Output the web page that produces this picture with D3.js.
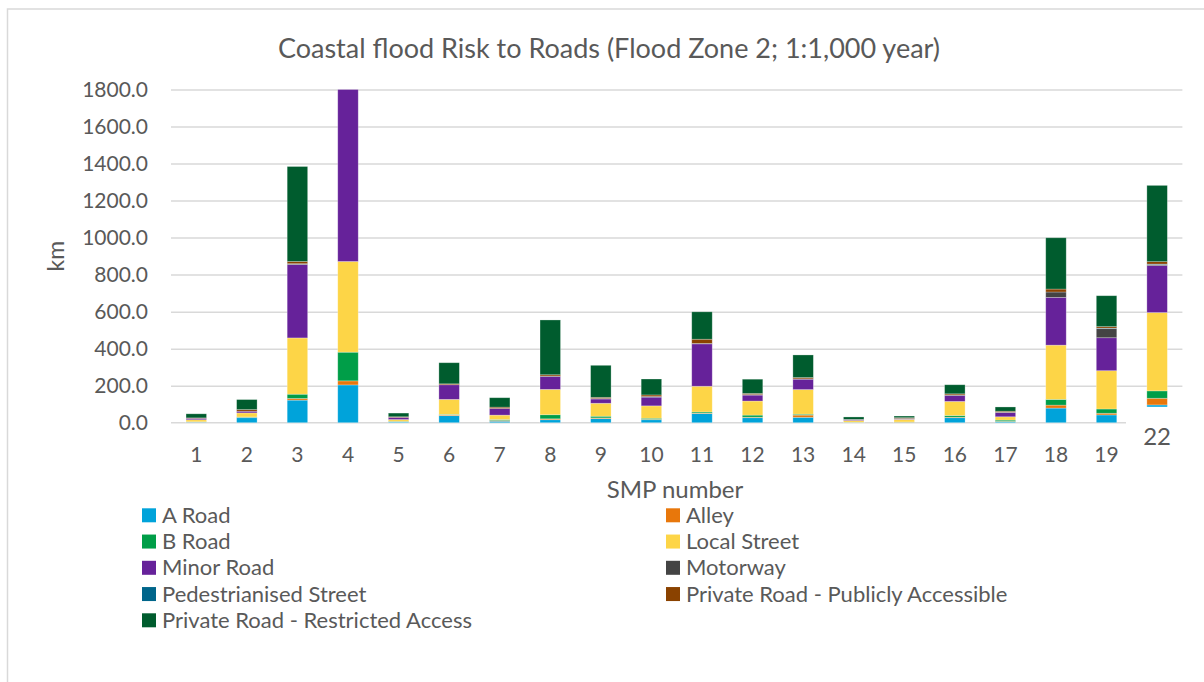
<!DOCTYPE html>
<html>
<head>
<meta charset="utf-8">
<script src="https://cdn.jsdelivr.net/npm/d3@7"></script>
<style>
  html, body { margin: 0; padding: 0; background: #ffffff; }
  svg { display: block; font-family: Lato, "Open Sans", sans-serif; }
</style>
</head>
<body>
<svg id="chart" width="1204" height="682"></svg>
<script>
// SMP (Shoreline Management Plan) areas along the x axis
const smp = ["1","2","3","4","5","6","7","8","9","10","11","12","13","14","15","16","17","18","19","22"];

// km of road in Flood Zone 2, by road class
const aRoad        = [3, 27, 122, 204, 4, 38, 8, 16, 22, 16, 49, 27, 29, 1, 1, 27, 5, 79, 42, 96];
const alley        = [1, 2, 9, 22, 2, 4, 4, 5, 4, 2, 3, 3, 12, 1, 2, 3, 2, 16, 9, 36];
const bRoad        = [1, 2, 23, 155, 2, 3, 5, 22, 9, 6, 6, 11, 5, 1, 1, 9, 7, 31, 23, 40];
const localStreet  = [11, 22, 304, 490, 9, 81, 24, 137, 70, 67, 139, 76, 133, 9, 14, 76, 18, 293, 207, 423];
const minorRoad    = [8, 9, 396, 929, 12, 79, 36, 69, 23, 47, 229, 32, 56, 5, 2, 32, 23, 258, 178, 254];
const motorway     = [0, 0, 3, 0, 0, 0, 0, 3, 3, 0, 0, 3, 2, 0, 4, 3, 2, 29, 49, 6];
const pedestrian   = [0, 0, 2, 0, 0, 0, 0, 0, 0, 3, 2, 0, 0, 0, 0, 0, 0, 0, 3, 2];
const privatePub   = [2, 9, 12, 0, 3, 5, 7, 7, 6, 9, 23, 6, 7, 1, 3, 6, 5, 16, 8, 13];
const privateRes   = [22, 54, 513, 0, 20, 114, 51, 296, 173, 86, 148, 77, 122, 13, 9, 49, 23, 277, 167, 412];

const seriesNames = ["A Road", "Alley", "B Road", "Local Street", "Minor Road", "Motorway",
  "Pedestrianised Street", "Private Road - Publicly Accessible", "Private Road - Restricted Access"];
const seriesValues = [aRoad, alley, bRoad, localStreet, minorRoad, motorway, pedestrian, privatePub, privateRes];
const seriesColors = ["#00a3da", "#e8770b", "#009e48", "#fdd547", "#66229a", "#444444", "#00658a", "#8a4200", "#005c2e"];

const yTicks = [0, 200, 400, 600, 800, 1000, 1200, 1400, 1600, 1800];

const svg = d3.select("#chart");
const textColor = "#595959";
const gridColor = "#d9d9d9";

// chart frame
svg.append("rect")
  .attr("x", 7.5).attr("y", 9).attr("width", 1400).attr("height", 900)
  .attr("fill", "none").attr("stroke", gridColor).attr("stroke-width", 1.5);

const plot = { left: 171, right: 1182.4, top: 89.5, bottom: 422.7 };

const x = d3.scaleBand().domain(smp)
  .range([plot.left, plot.right])
  .paddingInner(0.595).paddingOuter(0.2975);

const y = d3.scaleLinear().domain([0, 1800]).range([plot.bottom, plot.top]);

// gridlines
svg.append("g")
  .attr("transform", `translate(${plot.left},0)`)
  .call(d3.axisLeft(y).tickValues(yTicks.filter(t => t > 0)).tickSize(-(plot.right - plot.left)).tickFormat(""))
  .call(g => g.select(".domain").remove())
  .call(g => g.selectAll(".tick line").attr("stroke", gridColor).attr("stroke-width", 1.5));

// category axis line
svg.append("line")
  .attr("x1", plot.left).attr("x2", 1126)
  .attr("y1", y(0)).attr("y2", y(0))
  .attr("stroke", gridColor).attr("stroke-width", 1.5);

// y tick labels
svg.append("g")
  .attr("transform", "translate(148,0)")
  .call(d3.axisLeft(y).tickValues(yTicks).tickSize(0).tickPadding(0).tickFormat(d3.format(".1f")))
  .call(g => g.select(".domain").remove())
  .call(g => g.selectAll("text")
    .attr("fill", textColor).attr("font-size", 21).attr("font-family", "Lato, sans-serif"));

// stacked bars
const rows = smp.map((s, i) => {
  const r = { smp: s };
  seriesNames.forEach((n, k) => { r[n] = seriesValues[k][i]; });
  return r;
});
const stacked = d3.stack().keys(seriesNames)(rows);

svg.append("g")
  .selectAll("g")
  .data(stacked)
  .join("g")
  .attr("fill", (d, i) => seriesColors[i])
  .selectAll("rect")
  .data(d => d)
  .join("rect")
  .attr("x", d => x(d.data.smp))
  .attr("width", x.bandwidth())
  .attr("y", d => y(d[1]))
  .attr("height", d => Math.max(0, y(d[0]) - y(d[1])))
  .attr("stroke", "#ffffff").attr("stroke-opacity", 0.35).attr("stroke-width", 0.75);

// category labels
const xAxis = svg.append("g")
  .attr("transform", `translate(0,${y(0)})`)
  .call(d3.axisBottom(x).tickSize(0).tickPadding(24))
  .call(g => g.select(".domain").remove())
  .call(g => g.selectAll("text")
    .attr("fill", textColor).attr("font-size", 21).attr("font-family", "Lato, sans-serif"));

// white label box for the last area, sitting over the foot of its bar
const lastTick = xAxis.selectAll(".tick").filter(d => d === "22");
svg.append("rect")
  .attr("x", 1126).attr("y", 406.8).attr("width", 70).attr("height", 46)
  .attr("fill", "#ffffff");
lastTick.remove();
svg.append("text")
  .attr("x", x("22") + x.bandwidth() / 2).attr("y", 445)
  .attr("text-anchor", "middle")
  .attr("fill", textColor).attr("font-size", 24)
  .text("22");

// title
svg.append("text")
  .attr("x", 609).attr("y", 58)
  .attr("text-anchor", "middle")
  .attr("fill", textColor).attr("font-size", 27)
  .text("Coastal flood Risk to Roads (Flood Zone 2; 1:1,000 year)");

// axis titles
svg.append("text")
  .attr("transform", `translate(64,${(plot.top + plot.bottom) / 2}) rotate(-90)`)
  .attr("text-anchor", "middle")
  .attr("fill", textColor).attr("font-size", 23)
  .text("km");

svg.append("text")
  .attr("x", 675).attr("y", 498)
  .attr("text-anchor", "middle")
  .attr("fill", textColor).attr("font-size", 24)
  .text("SMP number");

// legend, two columns filled row by row
const legend = svg.append("g");
seriesNames.forEach((name, i) => {
  const col = i % 2, row = Math.floor(i / 2);
  const lx = col === 0 ? 142 : 666;
  const ly = 515.3 + row * 26.25;
  legend.append("rect")
    .attr("x", lx).attr("y", ly - 7).attr("width", 14).attr("height", 14)
    .attr("fill", seriesColors[i]);
  legend.append("text")
    .attr("x", lx + 20).attr("y", ly + 7.5)
    .attr("fill", textColor).attr("font-size", 22)
    .text(name);
});
</script>
</body>
</html>
